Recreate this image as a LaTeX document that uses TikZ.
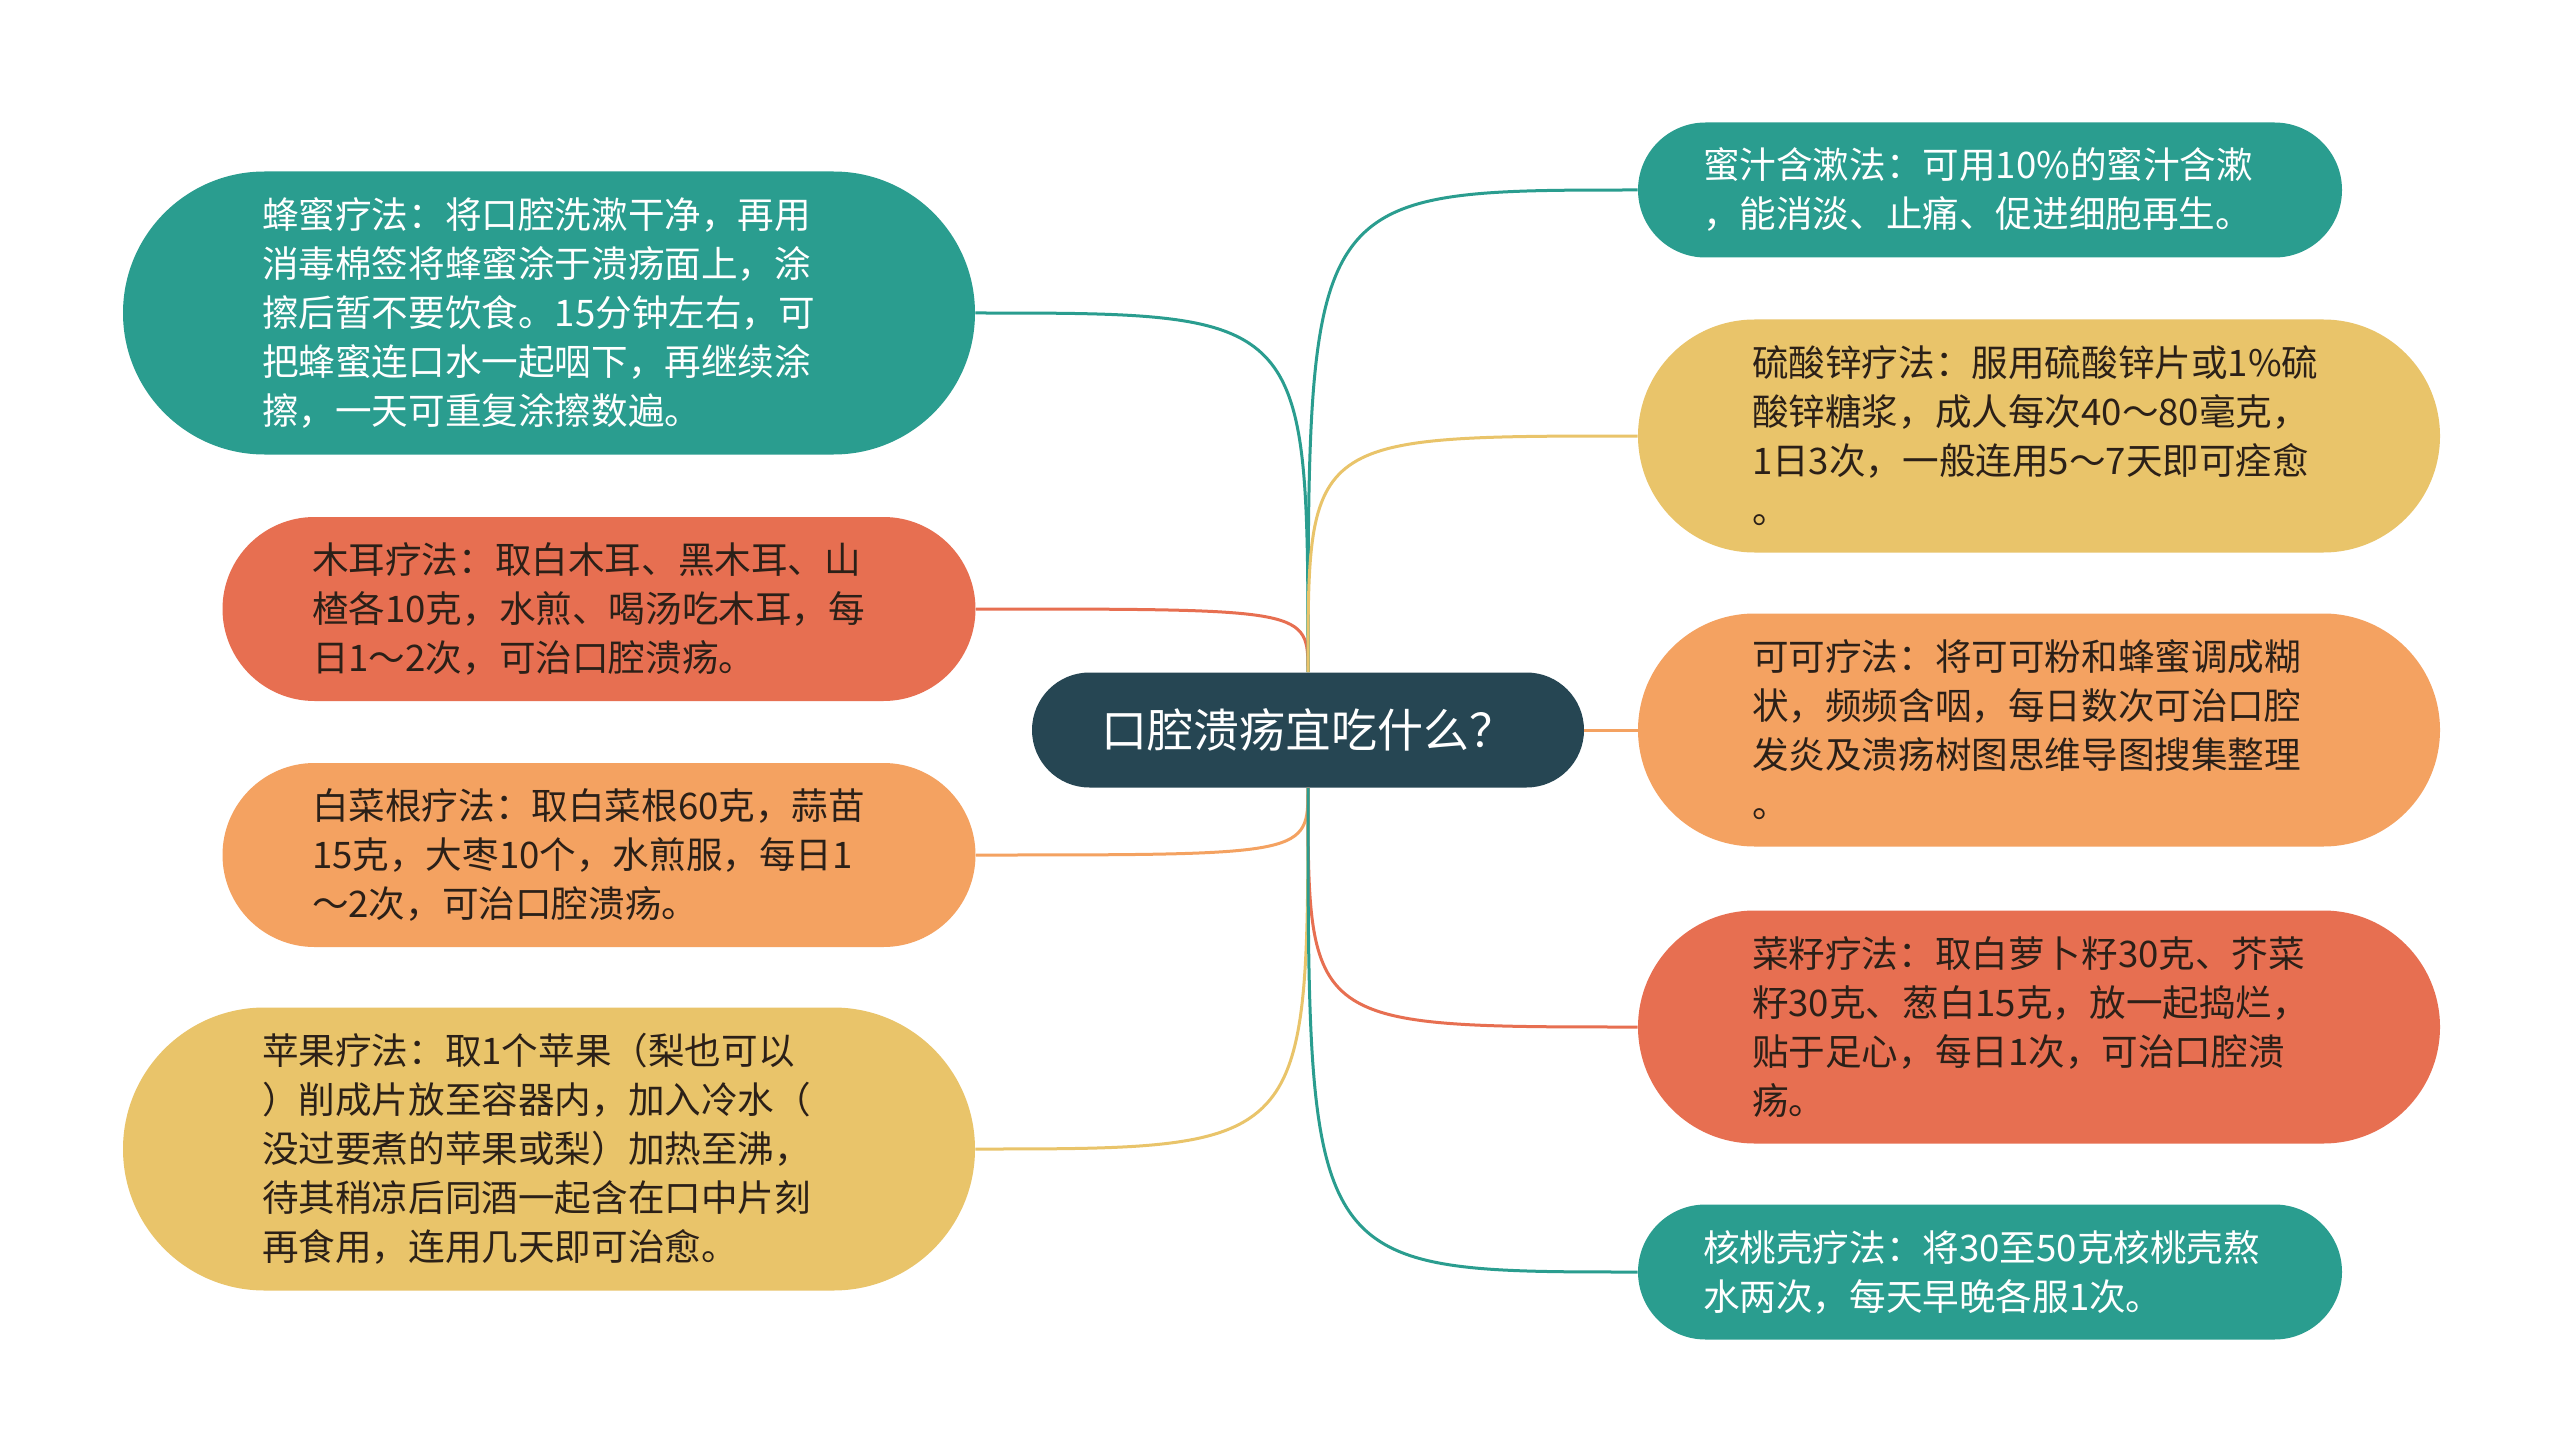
\documentclass[tikz,border=0pt]{standalone}
\usepackage{fontspec}
\setmainfont{Noto Sans CJK SC}
\usetikzlibrary{positioning}
\definecolor{rootc}{HTML}{264653}
\definecolor{tealc}{HTML}{2A9D8F}
\definecolor{yellowc}{HTML}{E9C46A}
\definecolor{orangec}{HTML}{F4A261}
\definecolor{coralc}{HTML}{E76F51}
\definecolor{inkc}{HTML}{2B2018}
\begin{document}
\begin{tikzpicture}[x=1pt, y=1pt, on grid,
    main node/.style={fill=rootc, text=white, rounded corners=28.75pt, minimum width=276pt, minimum height=57.5pt, font=\fontsize{23}{28}\selectfont},
    card/.style={align=left, inner sep=0pt, text width=287pt, text=inkc, font=\fontsize{18.3}{24.5}\selectfont},
    big card/.style={card, minimum width=426pt, minimum height=141.5pt, rounded corners=70.75pt},
    mid card/.style={card, minimum width=376.5pt, minimum height=92pt, rounded corners=46pt},
    tall card/.style={card, minimum width=401pt, minimum height=116.5pt, rounded corners=58.25pt},
    small card/.style={card, minimum width=352pt, minimum height=67.5pt, rounded corners=33.75pt},
    branch/.style={line width=1.5pt, to path={.. controls (\tikztostart |- \tikztotarget) .. (\tikztotarget)}}]
  \fill[white] (0,0) rectangle (1280,-727.5);
  \useasboundingbox (0,0) rectangle (1280,-727.5);

  \node[main node] (root) at (654,-365) {口腔溃疡宜吃什么？};

  % left side
  \node[big card, fill=tealc, text=white] (honey) [above left=208.5pt and 379.5pt of root]
    {蜂蜜疗法：将口腔洗漱干净，再用\\消毒棉签将蜂蜜涂于溃疡面上，涂\\擦后暂不要饮食。15分钟左右，可\\把蜂蜜连口水一起咽下，再继续涂\\擦，一天可重复涂擦数遍。};
  \node[mid card, fill=coralc] (muer) [above left=60.5pt and 354.5pt of root]
    {木耳疗法：取白木耳、黑木耳、山\\楂各10克，水煎、喝汤吃木耳，每\\日1～2次，可治口腔溃疡。};
  \node[mid card, fill=orangec] (baicai) [below left=62.5pt and 354.5pt of root]
    {白菜根疗法：取白菜根60克，蒜苗\\15克，大枣10个，水煎服，每日1\\～2次，可治口腔溃疡。};
  \node[big card, fill=yellowc] (apple) [below left=209.5pt and 379.5pt of root]
    {苹果疗法：取1个苹果（梨也可以\\）削成片放至容器内，加入冷水（\\没过要煮的苹果或梨）加热至沸，\\待其稍凉后同酒一起含在口中片刻\\再食用，连用几天即可治愈。};

  % right side
  \node[small card, fill=tealc, text=white] (mizhi) [above right=270pt and 341pt of root]
    {蜜汁含漱法：可用10\%的蜜汁含漱\\，能消淡、止痛、促进细胞再生。};
  \node[tall card, fill=yellowc] (zinc) [above right=147pt and 365.5pt of root]
    {硫酸锌疗法：服用硫酸锌片或1\%硫\\酸锌糖浆，成人每次40～80毫克，\\1日3次，一般连用5～7天即可痊愈\\。};
  \node[tall card, fill=orangec] (cocoa) [right=365.5pt of root]
    {可可疗法：将可可粉和蜂蜜调成糊\\状，频频含咽，每日数次可治口腔\\发炎及溃疡树图思维导图搜集整理\\。};
  \node[tall card, fill=coralc] (seed) [below right=148.5pt and 365.5pt of root]
    {菜籽疗法：取白萝卜籽30克、芥菜\\籽30克、葱白15克，放一起捣烂，\\贴于足心，每日1次，可治口腔溃\\疡。};
  \node[small card, fill=tealc, text=white] (walnut) [below right=271pt and 341pt of root]
    {核桃壳疗法：将30至50克核桃壳熬\\水两次，每天早晚各服1次。};

  \path[branch]
    (root.north) edge[branch, draw=tealc] (honey.east)
                 edge[branch, draw=coralc] (muer.east)
                 edge[branch, draw=tealc] (mizhi.west)
                 edge[branch, draw=yellowc] (zinc.west)
    (root.south) edge[branch, draw=orangec] (baicai.east)
                 edge[branch, draw=yellowc] (apple.east)
                 edge[branch, draw=coralc] (seed.west)
                 edge[branch, draw=tealc] (walnut.west)
    (root.east) edge[branch, draw=orangec] (cocoa.west);
\end{tikzpicture}
\end{document}
